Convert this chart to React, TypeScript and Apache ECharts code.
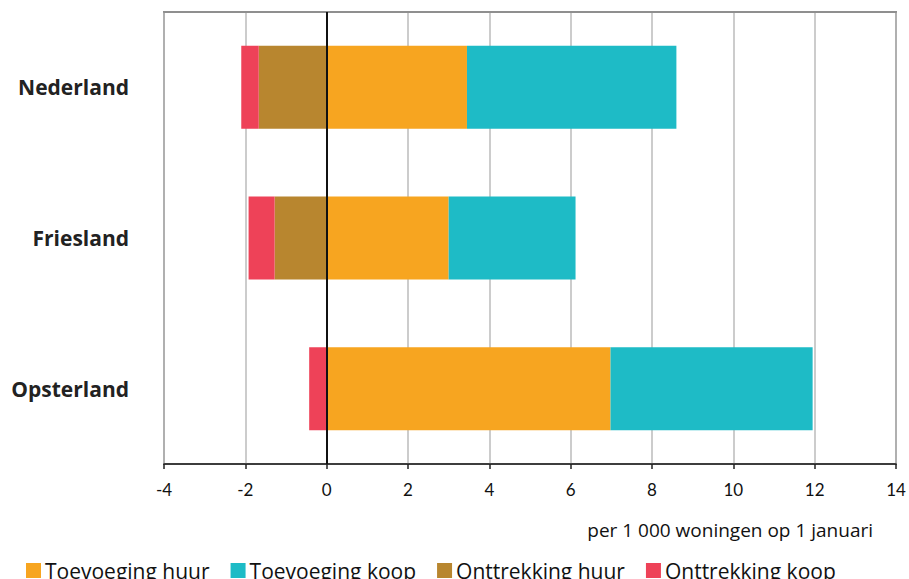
import React, { useEffect, useRef } from "react";
import * as echarts from "echarts";

const categories = ["Nederland", "Friesland", "Opsterland"];
const toevoegingHuur = [3.45, 3.0, 6.98];
const toevoegingKoop = [5.15, 3.12, 4.97];
const onttrekkingHuur = [-1.67, -1.28, 0];
const onttrekkingKoop = [-0.43, -0.64, -0.43];
const seriesNames = ["Toevoeging huur", "Toevoeging koop", "Onttrekking huur", "Onttrekking koop"];
const colors = ["#F7A520", "#1EBBC6", "#B8862F", "#EE4258"];
const xMin = -4;
const xMax = 14;
const xInterval = 2;
const axisName = "per 1 000 woningen op 1 januari";

export default function App() {
  const ref = useRef<HTMLDivElement>(null);
  useEffect(() => {
    if (!ref.current) return;
    const chart = echarts.init(ref.current, null, { renderer: "svg" });
    const font = "Lato, 'Open Sans', sans-serif";
    const wide = "'Open Sans', sans-serif";
    const data = [toevoegingHuur, toevoegingKoop, onttrekkingHuur, onttrekkingKoop];
    chart.setOption({
      animation: false,
      textStyle: { fontFamily: font },
      grid: {
        left: 164,
        right: 13,
        top: 12,
        bottom: 115,
        show: true,
        borderColor: "#8f8f8f",
        borderWidth: 2,
      },
      legend: {
        left: 21,
        top: 555,
        itemWidth: 15,
        itemHeight: 15,
        itemGap: 21,
        icon: "rect",
        data: seriesNames,
        textStyle: { fontSize: 21, color: "#111", fontFamily: wide, padding: [0, 0, 0, -1] },
      },
      xAxis: [
        {
          type: "value",
          min: xMin,
          max: xMax,
          interval: xInterval,
          axisLine: { show: true, onZero: false, lineStyle: { color: "#222", width: 1.5 } },
          axisTick: { show: true, length: 5, lineStyle: { color: "#222", width: 1.5 } },
          axisLabel: { fontSize: 17, color: "#111", margin: 17, fontFamily: font },
          splitLine: { show: true, lineStyle: { color: "#bbb", width: 1.5 } },
          name: axisName,
          nameLocation: "end",
          nameGap: 0,
          nameTextStyle: {
            fontSize: 19,
            color: "#111",
            align: "right",
            verticalAlign: "top",
            padding: [56, 23, 0, 0],
            fontFamily: wide,
          },
        },
        {
          type: "value",
          position: "top",
          gridIndex: 0,
          min: xMin,
          max: xMax,
          interval: xInterval,
          show: true,
          axisLine: { show: true, onZero: false, lineStyle: { color: "#8f8f8f", width: 2 } },
          axisTick: { show: false },
          axisLabel: { show: false },
          splitLine: { show: false },
        },
      ],
      yAxis: [
        {
          type: "category",
          data: categories,
          inverse: true,
          axisLine: { show: true, lineStyle: { color: "#888", width: 1.5 } },
          axisTick: { show: false },
          axisLabel: { fontSize: 21, fontWeight: "bold", color: "#222", margin: 35, fontFamily: wide },
          splitLine: { show: false },
        },
      ],
      series: [
        ...seriesNames.map((name, i) => ({
          name,
          type: "bar",
          stack: "total",
          barWidth: 83,
          xAxisIndex: 0,
          data: data[i],
          itemStyle: { color: colors[i] },
          markLine:
            i === 0
              ? {
                  silent: true,
                  symbol: "none",
                  label: { show: false },
                  lineStyle: { color: "#111", width: 2, type: "solid" },
                  data: [{ xAxis: 0 }],
                }
              : undefined,
        })),
        {
          name: "frame",
          type: "line",
          xAxisIndex: 1,
          data: [],
          silent: true,
        },
      ],
    });
    return () => chart.dispose();
  }, []);
  return (
    <div
      ref={ref}
      style={{ position: "absolute", left: 0, top: 0, width: 909, height: 579, background: "#fff" }}
    />
  );
}
